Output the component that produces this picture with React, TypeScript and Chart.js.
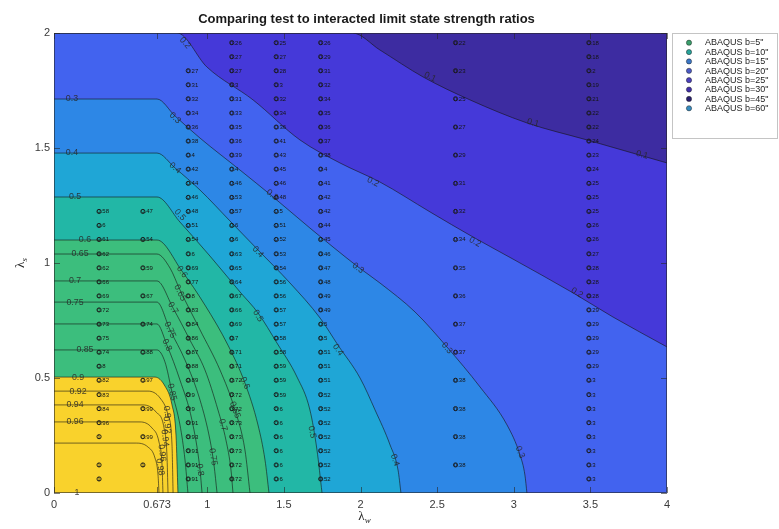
import React, { useEffect, useRef } from "react";
import { Chart, registerables } from "chart.js";

Chart.register(...registerables);

const SANS = "'Liberation Sans', Arial, Helvetica, sans-serif";
const SERIF = "'Liberation Serif', 'DejaVu Serif', 'Times New Roman', serif";

const titleText = "Comparing test to interacted limit state strength ratios";

const xTickValues = [0, 0.673, 1, 1.5, 2, 2.5, 3, 3.5, 4];
const yTickValues = [0, 0.5, 1, 1.5, 2];

// λs of the FE model rows, bottom (row 1) to top (row 32)
const lambdaSRows = [
  0.061, 0.122, 0.184, 0.245, 0.306, 0.367, 0.428, 0.49, 0.551, 0.612, 0.673,
  0.734, 0.796, 0.857, 0.918, 0.979, 1.04, 1.102, 1.163, 1.224, 1.285, 1.346,
  1.408, 1.469, 1.53, 1.591, 1.652, 1.714, 1.775, 1.836, 1.897, 1.958,
];

const seriesNames = [
  'ABAQUS b=5"',
  'ABAQUS b=10"',
  'ABAQUS b=15"',
  'ABAQUS b=20"',
  'ABAQUS b=25"',
  'ABAQUS b=30"',
  'ABAQUS b=45"',
  'ABAQUS b=60"',
];
const seriesLambdaW = [0.294, 0.58, 0.876, 1.16, 1.45, 1.74, 2.62, 3.49];
const seriesColors = [
  "#3a9f6c",
  "#27a39a",
  "#3a76c6",
  "#4b5ac6",
  "#4b40bd",
  "#402ea8",
  "#281e6e",
  "#378bbf",
];

// row numbers (into lambdaSRows) and strength ratios for each plate width
const b5Rows = [1, 2, 4, 5, 6, 7, 8, 9, 10, 11, 12, 13, 14, 15, 16, 17, 18, 19, 20];
const b5Ratios = [1, 1, 1, 0.96, 0.84, 0.83, 0.82, 0.8, 0.74, 0.75, 0.73, 0.72, 0.69, 0.66, 0.62, 0.62, 0.61, 0.6, 0.58];

const b10Rows = [2, 4, 6, 8, 10, 12, 14, 16, 18, 20];
const b10Ratios = [1, 0.99, 0.99, 0.97, 0.88, 0.74, 0.67, 0.59, 0.54, 0.47];

const b15Rows = [1, 2, 3, 4, 5, 6, 7, 8, 9, 10, 11, 12, 13, 14, 15, 16, 17, 18, 19, 20, 21, 22, 23, 24, 25, 26, 27, 28, 29, 30];
const b15Ratios = [0.91, 0.91, 0.91, 0.93, 0.91, 0.9, 0.9, 0.89, 0.88, 0.87, 0.86, 0.84, 0.83, 0.8, 0.77, 0.69, 0.6, 0.54, 0.51, 0.48, 0.46, 0.44, 0.42, 0.4, 0.38, 0.36, 0.34, 0.32, 0.31, 0.27];

const fullRows = [1, 2, 3, 4, 5, 6, 7, 8, 9, 10, 11, 12, 13, 14, 15, 16, 17, 18, 19, 20, 21, 22, 23, 24, 25, 26, 27, 28, 29, 30, 31, 32];
const b20Ratios = [0.72, 0.72, 0.73, 0.73, 0.73, 0.72, 0.72, 0.72, 0.71, 0.71, 0.7, 0.69, 0.66, 0.67, 0.64, 0.65, 0.63, 0.6, 0.6, 0.57, 0.53, 0.46, 0.4, 0.39, 0.36, 0.35, 0.33, 0.31, 0.3, 0.27, 0.27, 0.26];
const b25Ratios = [0.6, 0.6, 0.6, 0.6, 0.6, 0.6, 0.59, 0.59, 0.59, 0.58, 0.58, 0.57, 0.57, 0.56, 0.56, 0.54, 0.53, 0.52, 0.51, 0.5, 0.48, 0.46, 0.45, 0.43, 0.41, 0.36, 0.34, 0.32, 0.3, 0.28, 0.27, 0.25];
const b30Ratios = [0.52, 0.52, 0.52, 0.52, 0.52, 0.52, 0.52, 0.51, 0.51, 0.51, 0.5, 0.5, 0.49, 0.49, 0.48, 0.47, 0.46, 0.45, 0.44, 0.42, 0.42, 0.41, 0.4, 0.38, 0.37, 0.36, 0.35, 0.34, 0.32, 0.31, 0.29, 0.26];

const b45Rows = [2, 4, 6, 8, 10, 12, 14, 16, 18, 20, 22, 24, 26, 28, 30, 32];
const b45Ratios = [0.38, 0.38, 0.38, 0.38, 0.37, 0.37, 0.36, 0.35, 0.34, 0.32, 0.31, 0.29, 0.27, 0.25, 0.23, 0.22];

const b60Ratios = [0.3, 0.3, 0.3, 0.3, 0.3, 0.3, 0.3, 0.3, 0.29, 0.29, 0.29, 0.29, 0.29, 0.28, 0.28, 0.28, 0.27, 0.26, 0.26, 0.25, 0.25, 0.25, 0.24, 0.23, 0.24, 0.22, 0.22, 0.21, 0.19, 0.2, 0.18, 0.18];

const seriesRows = [b5Rows, b10Rows, b15Rows, fullRows, fullRows, fullRows, b45Rows, fullRows];
const seriesRatios = [b5Ratios, b10Ratios, b15Ratios, b20Ratios, b25Ratios, b30Ratios, b45Ratios, b60Ratios];

// interaction-curve contour lines, [λw, λs] vertices
const contour010 = [[0, 2], [1.947, 2], [2.127, 1.926], [2.408, 1.809], [2.715, 1.709], [3.086, 1.609], [3.478, 1.535], [4, 1.435]];
const contour020 = [[0, 2], [0.803, 2], [0.998, 1.852], [1.299, 1.709], [1.605, 1.535], [1.866, 1.435], [2.127, 1.352], [2.454, 1.222], [2.734, 1.113], [2.995, 1.017], [3.387, 0.87], [3.648, 0.765], [4, 0.635]];
const contour030 = [[0, 1.713], [0.672, 1.713], [0.79, 1.639], [0.953, 1.543], [1.214, 1.404], [1.423, 1.291], [1.67, 1.152], [1.984, 0.983], [2.127, 0.913], [2.356, 0.787], [2.564, 0.635], [2.78, 0.461], [2.956, 0.296], [3.041, 0.165], [3.073, 0.078], [3.086, 0]];
const contour040 = [[0, 1.478], [0.672, 1.478], [0.79, 1.413], [0.953, 1.317], [1.148, 1.183], [1.331, 1.057], [1.54, 0.913], [1.736, 0.761], [1.853, 0.643], [1.997, 0.5], [2.095, 0.361], [2.193, 0.209], [2.245, 0.1], [2.264, 0]];
const contour050 = [[0, 1.287], [0.672, 1.287], [0.822, 1.178], [1.018, 1.03], [1.214, 0.874], [1.331, 0.783], [1.455, 0.652], [1.586, 0.504], [1.67, 0.361], [1.716, 0.187], [1.749, 0]];
const contour060 = [[0, 1.1], [0.672, 1.1], [0.835, 0.965], [0.985, 0.817], [1.135, 0.643], [1.246, 0.478], [1.331, 0.296], [1.377, 0.143], [1.403, 0]];
const contour065 = [[0, 1.039], [0.672, 1.039], [0.757, 0.978], [0.822, 0.883], [0.953, 0.709], [1.083, 0.535], [1.181, 0.361], [1.246, 0.187], [1.279, 0]];
const contour070 = [[0, 0.922], [0.672, 0.922], [0.777, 0.804], [0.887, 0.665], [0.985, 0.535], [1.07, 0.361], [1.122, 0.23], [1.155, 0.1], [1.168, 0]];
const contour075 = [[0, 0.83], [0.672, 0.83], [0.757, 0.709], [0.855, 0.578], [0.953, 0.404], [1.018, 0.23], [1.044, 0.122], [1.064, 0]];
const contour080 = [[0, 0.735], [0.672, 0.735], [0.737, 0.643], [0.822, 0.491], [0.9, 0.317], [0.953, 0.1], [0.966, 0]];
const contour085 = [[0, 0.622], [0.672, 0.622], [0.724, 0.57], [0.77, 0.439], [0.822, 0.296], [0.855, 0.143], [0.874, 0]];
const contour090 = [[0, 0.504], [0.659, 0.504], [0.724, 0.465], [0.77, 0.383], [0.796, 0.252], [0.809, 0]];
const contour092 = [[0, 0.443], [0.613, 0.443], [0.692, 0.413], [0.744, 0.339], [0.77, 0.209], [0.777, 0]];
const contour094 = [[0, 0.383], [0.581, 0.383], [0.666, 0.352], [0.718, 0.283], [0.737, 0.165], [0.744, 0]];
const contour096 = [[0, 0.309], [0.561, 0.309], [0.639, 0.283], [0.685, 0.222], [0.705, 0.122], [0.711, 0]];
const contour098 = [[0, 0.217], [0.529, 0.217], [0.613, 0.2], [0.659, 0.152], [0.679, 0.078], [0.685, 0]];

const contourLevels = [0.1, 0.2, 0.3, 0.4, 0.5, 0.6, 0.65, 0.7, 0.75, 0.8, 0.85, 0.9, 0.92, 0.94, 0.96, 0.98];
const contourLines = [contour010, contour020, contour030, contour040, contour050, contour060, contour065, contour070, contour075, contour080, contour085, contour090, contour092, contour094, contour096, contour098];
// colour of the band lying above each level
const bandColors = [
  "#4539d9", "#4263ef", "#2d87e6", "#1fa6d6", "#22b7a6",
  "#3cbe7d", "#3cbe7d", "#3cbe7d", "#3cbe7d", "#3cbe7d", "#3cbe7d",
  "#f9d22c", "#f9d22c", "#f9d22c", "#f9d22c", "#f9d22c",
];
const lowBandColor = "#3d2ca1";

// in-line contour labels
const labelLevels = [
  0.1, 0.1, 0.1,
  0.2, 0.2, 0.2, 0.2,
  0.3, 0.3, 0.3, 0.3, 0.3, 0.3,
  0.4, 0.4, 0.4, 0.4, 0.4,
  0.5, 0.5, 0.5, 0.5,
  0.6, 0.6, 0.6,
  0.65, 0.65, 0.65,
  0.7, 0.7, 0.7,
  0.75, 0.75, 0.75,
  0.8, 0.8,
  0.85, 0.85,
  0.9, 0.9,
  0.92, 0.92,
  0.94, 0.94,
  0.96, 0.96,
  0.98,
  1,
];
const labelX = [
  2.454, 3.126, 3.837,
  0.855, 2.082, 2.747, 3.413,
  0.117, 0.79, 1.423, 1.984, 2.564, 3.041,
  0.117, 0.79, 1.331, 1.853, 2.225,
  0.137, 0.822, 1.331, 1.684,
  0.202, 0.835, 1.246,
  0.17, 0.822, 1.181,
  0.137, 0.777, 1.103,
  0.137, 0.757, 1.038,
  0.737, 0.953,
  0.202, 0.77,
  0.157, 0.737,
  0.157, 0.737,
  0.137, 0.724,
  0.137, 0.705,
  0.692,
  0.15,
];
const labelY = [
  1.809, 1.609, 1.47,
  1.957, 1.352, 1.091, 0.87,
  1.713, 1.63, 1.296, 0.978, 0.63, 0.178,
  1.478, 1.413, 1.048, 0.622, 0.143,
  1.287, 1.209, 0.77, 0.265,
  1.1, 0.961, 0.478,
  1.039, 0.87, 0.361,
  0.922, 0.804, 0.296,
  0.83, 0.709, 0.157,
  0.643, 0.1,
  0.622, 0.439,
  0.504, 0.352,
  0.443, 0.296,
  0.383, 0.239,
  0.309, 0.174,
  0.113,
  0,
];

const AXIS_COLOR = "rgba(38,38,38,0.75)";
const TEXT_COLOR = "#3a3a3a";

function segmentAngle(chart: any, level: number, px: number, py: number): number {
  const idx = contourLevels.indexOf(level);
  if (idx < 0) return 0;
  const xs = chart.scales.x;
  const ys = chart.scales.y;
  const pts = contourLines[idx].map(([a, b]) => [xs.getPixelForValue(a), ys.getPixelForValue(b)]);
  let best = Infinity;
  let angle = 0;
  for (let i = 0; i < pts.length - 1; i++) {
    const [x0, y0] = pts[i];
    const [x1, y1] = pts[i + 1];
    const dx = x1 - x0;
    const dy = y1 - y0;
    const len2 = dx * dx + dy * dy;
    if (len2 === 0) continue;
    let t = ((px - x0) * dx + (py - y0) * dy) / len2;
    t = Math.max(0, Math.min(1, t));
    const cx = x0 + t * dx;
    const cy = y0 + t * dy;
    const d = (px - cx) ** 2 + (py - cy) ** 2;
    if (d < best) {
      best = d;
      angle = Math.atan2(dy, dx);
    }
  }
  if (angle > Math.PI / 2) angle -= Math.PI;
  if (angle < -Math.PI / 2) angle += Math.PI;
  return angle;
}

const contourPlugin = {
  id: "contourDecor",
  beforeDatasetsDraw(chart: any) {
    const { ctx, chartArea: a } = chart;
    ctx.save();
    ctx.fillStyle = lowBandColor;
    ctx.fillRect(a.left, a.top, a.right - a.left, a.bottom - a.top);
    ctx.restore();
  },
  afterDatasetsDraw(chart: any) {
    const { ctx, chartArea: a } = chart;
    const xs = chart.scales.x;
    const ys = chart.scales.y;

    // contour level labels
    ctx.save();
    ctx.font = `8.8px ${SANS}`;
    ctx.fillStyle = "rgba(40,40,40,0.85)";
    ctx.textAlign = "center";
    ctx.textBaseline = "middle";
    labelLevels.forEach((lv, i) => {
      const px = xs.getPixelForValue(labelX[i]);
      const py = ys.getPixelForValue(labelY[i]);
      const ang = segmentAngle(chart, lv, px, py);
      ctx.save();
      ctx.translate(px, py);
      ctx.rotate(ang);
      ctx.fillText(String(lv), 0, 0);
      ctx.restore();
    });
    ctx.restore();

    // strength ratio printed beside each model point
    ctx.save();
    ctx.font = `6px ${SANS}`;
    ctx.fillStyle = "#151515";
    ctx.textAlign = "left";
    ctx.textBaseline = "middle";
    chart.data.datasets.forEach((ds: any, di: number) => {
      if (ds.type !== "scatter") return;
      const meta = chart.getDatasetMeta(di);
      meta.data.forEach((el: any, j: number) => {
        const v = ds.data[j].v;
        ctx.fillText(String(v), el.x - 1.7, el.y + 0.3);
      });
    });
    ctx.restore();

    // axes box with inward ticks
    ctx.save();
    ctx.strokeStyle = AXIS_COLOR;
    ctx.lineWidth = 0.8;
    ctx.strokeRect(a.left + 0.5, a.top + 0.5, a.right - a.left - 1, a.bottom - a.top - 1);
    ctx.beginPath();
    xTickValues.forEach((v) => {
      const px = Math.round(xs.getPixelForValue(v)) + 0.5;
      ctx.moveTo(px, a.bottom);
      ctx.lineTo(px, a.bottom - 6);
      ctx.moveTo(px, a.top);
      ctx.lineTo(px, a.top + 6);
    });
    yTickValues.forEach((v) => {
      const py = Math.round(ys.getPixelForValue(v)) + 0.5;
      ctx.moveTo(a.left, py);
      ctx.lineTo(a.left + 6, py);
      ctx.moveTo(a.right, py);
      ctx.lineTo(a.right - 6, py);
    });
    ctx.stroke();
    ctx.restore();
  },
  afterDraw(chart: any) {
    const { ctx, chartArea: a } = chart;

    // title
    ctx.save();
    ctx.fillStyle = "#1a1a1a";
    ctx.font = `bold 12px ${SANS}`;
    const w12 = ctx.measureText(titleText).width;
    const size = (12 * 337) / w12;
    ctx.font = `bold ${size.toFixed(2)}px ${SANS}`;
    ctx.textAlign = "center";
    ctx.textBaseline = "middle";
    ctx.fillText(titleText, 366.5, 19);
    ctx.restore();

    // x axis label λw
    ctx.save();
    ctx.fillStyle = "#262626";
    ctx.textBaseline = "alphabetic";
    ctx.textAlign = "left";
    ctx.font = `13px ${SERIF}`;
    const lw = ctx.measureText("λ").width;
    ctx.font = `italic 9px ${SERIF}`;
    const ww = ctx.measureText("w").width;
    const cx = (a.left + a.right) / 2 + 4;
    const x0 = cx - (lw + ww) / 2;
    ctx.font = `13px ${SERIF}`;
    ctx.fillText("λ", x0, 520);
    ctx.font = `italic 9px ${SERIF}`;
    ctx.fillText("w", x0 + lw, 523);
    ctx.restore();

    // y axis label λs
    ctx.save();
    ctx.fillStyle = "#262626";
    ctx.translate(24, (a.top + a.bottom) / 2);
    ctx.rotate(-Math.PI / 2);
    ctx.textBaseline = "alphabetic";
    ctx.textAlign = "left";
    ctx.font = `13px ${SERIF}`;
    const lw2 = ctx.measureText("λ").width;
    ctx.font = `italic 9px ${SERIF}`;
    const sw = ctx.measureText("s").width;
    const y0 = -(lw2 + sw) / 2;
    ctx.font = `13px ${SERIF}`;
    ctx.fillText("λ", y0, 0);
    ctx.font = `italic 9px ${SERIF}`;
    ctx.fillText("s", y0 + lw2, 3);
    ctx.restore();

    // legend
    ctx.save();
    const lx = 672;
    const ly = 33;
    const lwid = 106;
    const lh = 106;
    ctx.fillStyle = "#ffffff";
    ctx.fillRect(lx, ly, lwid, lh);
    ctx.strokeStyle = "#c4c4c4";
    ctx.lineWidth = 1;
    ctx.strokeRect(lx + 0.5, ly + 0.5, lwid - 1, lh - 1);
    ctx.font = `9px ${SANS}`;
    ctx.textAlign = "left";
    ctx.textBaseline = "middle";
    seriesNames.forEach((name, i) => {
      const ry = 42.7 + i * 9.37;
      ctx.beginPath();
      ctx.arc(689, ry, 2.6, 0, Math.PI * 2);
      ctx.fillStyle = seriesColors[i];
      ctx.fill();
      ctx.strokeStyle = "rgba(30,30,30,0.8)";
      ctx.lineWidth = 0.6;
      ctx.stroke();
      ctx.fillStyle = "#1e1e1e";
      ctx.fillText(name, 705, ry + 0.3);
    });
    ctx.restore();
  },
};

export default function App() {
  const canvasRef = useRef<HTMLCanvasElement | null>(null);

  useEffect(() => {
    const canvas = canvasRef.current;
    if (!canvas) return;

    const contourDatasets = contourLines.map((line, i) => ({
      type: "line" as const,
      label: `level ${contourLevels[i]}`,
      data: line.map(([x, y]) => ({ x, y })),
      borderColor: "rgba(20,20,20,0.85)",
      borderWidth: 0.7,
      backgroundColor: bandColors[i],
      fill: "start",
      pointRadius: 0,
      cubicInterpolationMode: "monotone" as const,
      order: 100 - i,
    }));

    const pointDatasets = seriesNames.map((name, i) => ({
      type: "scatter" as const,
      label: name,
      data: seriesRows[i].map((row, j) => ({
        x: seriesLambdaW[i],
        y: lambdaSRows[row - 1],
        v: seriesRatios[i][j],
      })),
      pointRadius: 2.1,
      pointBorderWidth: 0.9,
      pointBorderColor: "#1c1c1c",
      pointBackgroundColor: "rgba(0,0,0,0)",
      order: 0,
    }));

    const chart = new Chart(canvas, {
      type: "line",
      data: { datasets: [...contourDatasets, ...pointDatasets] as any },
      options: {
        responsive: false,
        animation: false,
        devicePixelRatio: 1,
        layout: { padding: { top: 33, right: 112, bottom: 0, left: 0 } },
        plugins: {
          legend: { display: false },
          title: { display: false },
          tooltip: { enabled: false },
        },
        scales: {
          x: {
            type: "linear",
            min: 0,
            max: 4,
            grid: { display: false, drawTicks: false },
            border: { display: false },
            afterBuildTicks: (axis: any) => {
              axis.ticks = xTickValues.map((value) => ({ value }));
            },
            afterFit: (axis: any) => {
              axis.height = 36;
            },
            ticks: {
              autoSkip: false,
              maxRotation: 0,
              padding: 5,
              color: TEXT_COLOR,
              font: { family: SANS, size: 11 },
              callback: (v: any) => String(v),
            },
          },
          y: {
            type: "linear",
            min: 0,
            max: 2,
            grid: { display: false, drawTicks: false },
            border: { display: false },
            afterBuildTicks: (axis: any) => {
              axis.ticks = yTickValues.map((value) => ({ value }));
            },
            afterFit: (axis: any) => {
              axis.width = 54;
            },
            ticks: {
              autoSkip: false,
              padding: 4,
              color: TEXT_COLOR,
              font: { family: SANS, size: 11 },
              callback: (v: any) => String(v),
            },
          },
        },
      },
      plugins: [contourPlugin],
    });

    return () => chart.destroy();
  }, []);

  return (
    <div style={{ position: "absolute", left: 0, top: 0, width: 779, height: 529, background: "#ffffff" }}>
      <canvas ref={canvasRef} width={779} height={529} style={{ display: "block", width: 779, height: 529 }} />
    </div>
  );
}
